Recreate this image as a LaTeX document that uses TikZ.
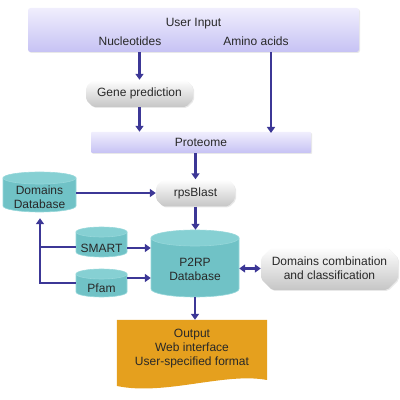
\documentclass[tikz,border=0pt]{standalone}
\usepackage{fontspec}
\setmainfont{Liberation Sans}
\usetikzlibrary{arrows.meta,shadows}
\definecolor{arr}{RGB}{60,55,150}
\definecolor{tealbody}{RGB}{112,194,198}
\definecolor{tealtop}{RGB}{134,208,211}
\definecolor{tealline}{RGB}{150,215,218}
\definecolor{lavtop}{RGB}{240,238,253}
\definecolor{lavbot}{RGB}{198,194,244}
\definecolor{orng}{RGB}{229,160,30}
\definecolor{txt}{RGB}{40,40,40}
\newcommand\drawcyl[6]{%
  \node[rectangle, inner sep=0, minimum width=#4pt, minimum height=#5pt] (#1) at (#2,#3) {};
  \fill[tealbody, draw=tealline, line width=0.6pt] ({#2-#4/2},{#3+#5/2-#6}) -- ({#2-#4/2},{#3-#5/2+#6})
     arc[start angle=180, end angle=360, x radius=#4/2, y radius=#6] -- ({#2+#4/2},{#3+#5/2-#6}) -- cycle;
  \fill[tealtop, draw=tealline, line width=0.6pt] (#2,{#3+#5/2-#6}) ellipse[x radius=#4/2, y radius=#6];
}
\newcommand\drawocta[7]{%
  \path[greyfill] ({#2-#4/2+#6},{#3+#5/2}) -- ({#2+#4/2-#6},{#3+#5/2}) -- ({#2+#4/2},{#3+#5/2-#6})
     -- ({#2+#4/2},{#3-#5/2+#6}) -- ({#2+#4/2-#6},{#3-#5/2}) -- ({#2-#4/2+#6},{#3-#5/2})
     -- ({#2-#4/2},{#3-#5/2+#6}) -- ({#2-#4/2},{#3+#5/2-#6}) -- cycle;
  \node[rectangle, inner sep=0, align=center, minimum width=#4pt, minimum height=#5pt] (#1) at (#2,#3) {#7};
}
\begin{document}
\begin{tikzpicture}[x=1pt,y=1pt,
  font=\fontsize{12}{14}\selectfont, text=txt,
  lavbox/.style={rectangle, inner sep=0, top color=lavtop, bottom color=lavbot, rounded corners=2.5pt,
     drop shadow={opacity=0.18, shadow xshift=1pt, shadow yshift=-1pt}},
  greyfill/.style={top color=white, bottom color=gray!45, rounded corners=2pt,
     drop shadow={opacity=0.18, shadow xshift=1pt, shadow yshift=-1pt}},
  lbl/.style={inner sep=0, align=center},
  flow/.style={draw=arr, line width=2.8pt, -{Triangle[length=6pt,width=8pt]}},
  flowboth/.style={draw=arr, line width=2.8pt, {Triangle[length=6pt,width=8pt]}-{Triangle[length=6pt,width=8pt]}},
  plain/.style={draw=arr, line width=2.8pt}
]
\useasboundingbox (0,0) rectangle (400,400);

% User input
\node[lavbox, minimum width=331pt, minimum height=44pt] (ui) at (193.5,370) {};
\node[lbl] (uit) at (193.5,376) {User Input};
\node[lbl] (nuc) at (130,359) {Nucleotides};
\node[lbl] (amino) at (256,359) {Amino acids};

% Gene prediction
\drawocta{gene}{139.5}{306.5}{107}{27}{7}{Gene prediction}

% Proteome
\node[lavbox, rounded corners=1pt, minimum width=220pt, minimum height=21pt] (prot) at (201,257.5) {Proteome};

% rpsBlast
\drawocta{rps}{195.5}{207}{79}{27}{7}{rpsBlast}

% Cylinders
\drawcyl{dd}{39.5}{208}{73}{40}{6}
\node[lbl] (ddt) at (39.5,202.5) {Domains\\Database};
\drawcyl{p2rp}{195}{136.5}{88}{67}{8}
\node[lbl] (p2rpt) at (195,131) {P2RP\\Database};
\drawcyl{smart}{101.5}{158}{51}{30}{5}
\node[lbl] (smartt) at (101.5,152) {SMART};
\drawcyl{pfam}{101.5}{117}{51}{28}{5}
\node[lbl] (pfamt) at (101.5,112) {Pfam};

% Domains combination
\drawocta{dc}{329.5}{131.5}{137}{43}{11}{Domains combination\\and classification}

% Output
\node[rectangle, inner sep=0, minimum width=150pt, minimum height=66pt] (out) at (192,47) {};
\fill[orng] (out.north west) -- (out.north east) -- (267,20)
   .. controls (225,28) and (165,4) .. (117,14) -- cycle;
\node[lbl] (outt) at (192,51) {Output\\Web interface\\User-specified format};

% Connectors
\coordinate (aminotop) at (271,348);
\coordinate (aminobot) at (271,267);
\draw[flow] (gene.north |- ui.south) -- (gene.north);
\draw[flow] (gene.south) -- (gene.south |- prot.north);
\draw[flow] (aminotop) -- (aminobot);
\draw[flow] (rps.north |- prot.south) -- (rps.north);
\draw[flow] (dd.east |- rps.west) -- (rps.west);
\draw[flow] (rps.south) -- (rps.south |- p2rp.north);
\draw[flow] (smart.east |- 0,152) -- (p2rp.west |- 0,152);
\draw[flow] (pfam.east |- 0,122) -- (p2rp.west |- 0,122);
\coordinate (lt) at (40,153);
\coordinate (lb) at (40,117);
\draw[plain] (smart.west |- lt) -- (lt);
\draw[flow, shorten >=6pt] (pfam.west |- lb) -- (lb) -- (lb |- dd.south);
\draw[flowboth] (p2rp.east |- dc.west) -- (dc.west);
\draw[flow] (p2rp.south) -- (p2rp.south |- out.north);
\end{tikzpicture}
\end{document}
